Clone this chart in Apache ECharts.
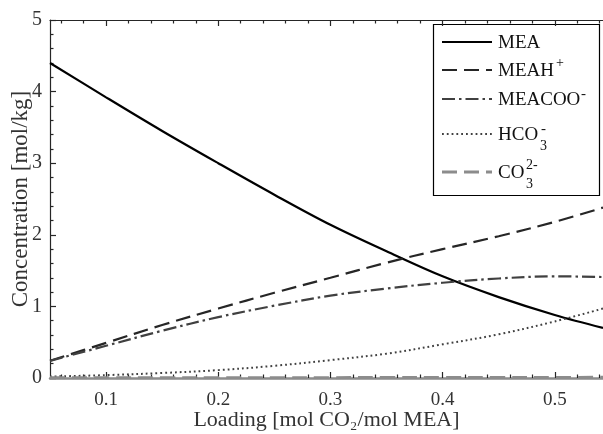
<!DOCTYPE html>
<html>
<head>
<meta charset="utf-8">
<script src="https://cdn.jsdelivr.net/npm/echarts@6/dist/echarts.min.js"></script>
<style>
  html, body { margin: 0; padding: 0; background: #fff; }
  #chart { width: 603px; height: 434px; }
</style>
</head>
<body>
<div id="chart"></div>
<script>
// CO2 loading of the MEA solution [mol CO2 / mol MEA]
const loading = [0.05, 0.10, 0.15, 0.20, 0.25, 0.30, 0.35, 0.40, 0.45, 0.50, 0.543];

// Species concentrations [mol/kg]
const mea    = [4.40, 3.92, 3.45, 3.00, 2.56, 2.14, 1.77, 1.42, 1.13, 0.88, 0.70];
const meah   = [0.24, 0.49, 0.74, 0.97, 1.19, 1.40, 1.61, 1.80, 1.98, 2.18, 2.38];
const meacoo = [0.24, 0.45, 0.66, 0.85, 1.01, 1.15, 1.25, 1.33, 1.39, 1.42, 1.41];
const hco3   = [0.02, 0.04, 0.07, 0.11, 0.17, 0.25, 0.34, 0.47, 0.61, 0.79, 0.97];
const co3    = [0.005, 0.005, 0.005, 0.005, 0.005, 0.005, 0.006, 0.006, 0.007, 0.008, 0.009];

const seriesNames = ['MEA', 'MEAH+', 'MEACOO-', 'HCO3-', 'CO32-'];

// Axis ticks
const xMajorTicks = [0.1, 0.2, 0.3, 0.4, 0.5];
const xMinorTicks = [0.06, 0.08, 0.12, 0.14, 0.16, 0.18, 0.22, 0.24, 0.26, 0.28,
                     0.32, 0.34, 0.36, 0.38, 0.42, 0.44, 0.46, 0.48, 0.52, 0.54];
const yTicks = [0, 1, 2, 3, 4, 5];

const xLabel = 'Loading [mol CO\u2082/mol MEA]';
const yLabel = 'Concentration [mol/kg]';

const FONT = '"Liberation Serif", "Times New Roman", serif';
const X_MIN = 0.05, X_MAX = 0.543;

function pairs(ys) { return loading.map((x, i) => [x, ys[i]]); }

const styles = [
  { color: '#000000', width: 2.2, type: 'solid' },
  { color: '#262626', width: 2.2, type: [15, 7] },
  { color: '#404040', width: 2.2, type: [13, 4, 2.5, 4] },
  { color: '#404040', width: 2, type: [1.8, 3] },
  { color: '#8c8c8c', width: 3, type: [15, 7] }
];
const values = [mea, meah, meacoo, hco3, co3];

function xAxisDef(pos, ticks, len, withLine, withLabel) {
  return {
    type: 'value', position: pos, min: X_MIN, max: X_MAX,
    axisLine: { show: withLine, onZero: false,
      lineStyle: { color: pos === 'bottom' ? '#8c8c8c' : '#262626', width: pos === 'bottom' ? 2.5 : 1.2 } },
    axisTick: { show: true, inside: true, length: len, customValues: ticks,
      lineStyle: { color: '#262626', width: 1.2 } },
    axisLabel: withLabel ? {
      show: true, customValues: ticks, margin: 13,
      fontFamily: FONT, fontSize: 19, color: '#333',
      formatter: v => v.toFixed(1)
    } : { show: false },
    splitLine: { show: false },
    name: withLabel ? xLabel : '',
    nameLocation: 'middle', nameGap: 31, nameMoveOverlap: false,
    nameTextStyle: { fontFamily: FONT, fontSize: 22, color: '#333' }
  };
}

const chart = echarts.init(document.getElementById('chart'), null, { renderer: 'canvas' });

// Legend box drawn as graphic elements (stacked sub/superscripts)
const legendRows = [
  { y: 42, parts: [{ t: 'MEA', dx: 0, dy: 1, s: 19 }] },
  { y: 70, parts: [{ t: 'MEAH', dx: 0, dy: 1, s: 19 }, { t: '+', dx: 58, dy: -7, s: 14 }] },
  { y: 99, parts: [{ t: 'MEACOO', dx: 0, dy: 1, s: 19 }, { t: '-', dx: 83, dy: -5, s: 15 }] },
  { y: 134, parts: [{ t: 'HCO', dx: 0, dy: 1, s: 19 }, { t: '3', dx: 42, dy: 12, s: 14 }, { t: '-', dx: 43, dy: -5, s: 15 }] },
  { y: 172, parts: [{ t: 'CO', dx: 0, dy: 1, s: 19 }, { t: '3', dx: 28, dy: 12, s: 14 }, { t: '2-', dx: 28, dy: -7, s: 14 }] }
];
const legendChildren = [{
  type: 'rect', shape: { x: 433.5, y: 24.5, width: 166, height: 171 },
  style: { fill: '#fff', stroke: '#000', lineWidth: 1.2 }
}];
legendRows.forEach((row, i) => {
  const st = styles[i];
  legendChildren.push({
    type: 'line', shape: { x1: 442, y1: row.y, x2: 492, y2: row.y },
    style: { stroke: st.color, lineWidth: st.width, lineDash: st.type === 'solid' ? null : st.type }
  });
  row.parts.forEach(p => {
    legendChildren.push({
      type: 'text', x: 498 + p.dx, y: row.y + p.dy,
      style: { text: p.t, fill: '#111', font: p.s + 'px ' + FONT, verticalAlign: 'middle', align: 'left' }
    });
  });
});

chart.setOption({
  animation: false,
  backgroundColor: '#fff',
  grid: { left: 50, right: 0, top: 20, bottom: 56, containLabel: false, outerBoundsMode: 'none' },
  xAxis: [
    xAxisDef('bottom', xMajorTicks, 6, true, true),
    xAxisDef('bottom', xMinorTicks, 3.5, false, false),
    xAxisDef('top', xMajorTicks, 6, true, false),
    xAxisDef('top', xMinorTicks, 3.5, false, false)
  ],
  yAxis: {
    type: 'value', min: 0, max: 5, interval: 1,
    axisLine: { show: true, lineStyle: { color: '#262626', width: 1.2 } },
    axisTick: { show: true, inside: true, length: 6, lineStyle: { color: '#262626', width: 1.2 } },
    minorTick: { show: true, splitNumber: 5, length: 3.5, lineStyle: { color: '#262626', width: 1.2 } },
    axisLabel: { margin: 8, fontFamily: FONT, fontSize: 20, color: '#333',
      formatter: v => yTicks.indexOf(v) >= 0 ? String(v) : '' },
    splitLine: { show: false },
    name: yLabel, nameLocation: 'middle', nameGap: 18, nameMoveOverlap: false,
    nameTextStyle: { fontFamily: FONT, fontSize: 23, color: '#333' }
  },
  series: values.map((ys, i) => ({
    name: seriesNames[i], type: 'line', xAxisIndex: 0, yAxisIndex: 0,
    data: pairs(ys), smooth: 0.35, showSymbol: false, symbol: 'none',
    clip: true,
    lineStyle: { color: styles[i].color, width: styles[i].width, type: styles[i].type },
    z: 2 + i
  })),
  graphic: [{ type: 'group', children: legendChildren, z: 100 }]
});
</script>
</body>
</html>
